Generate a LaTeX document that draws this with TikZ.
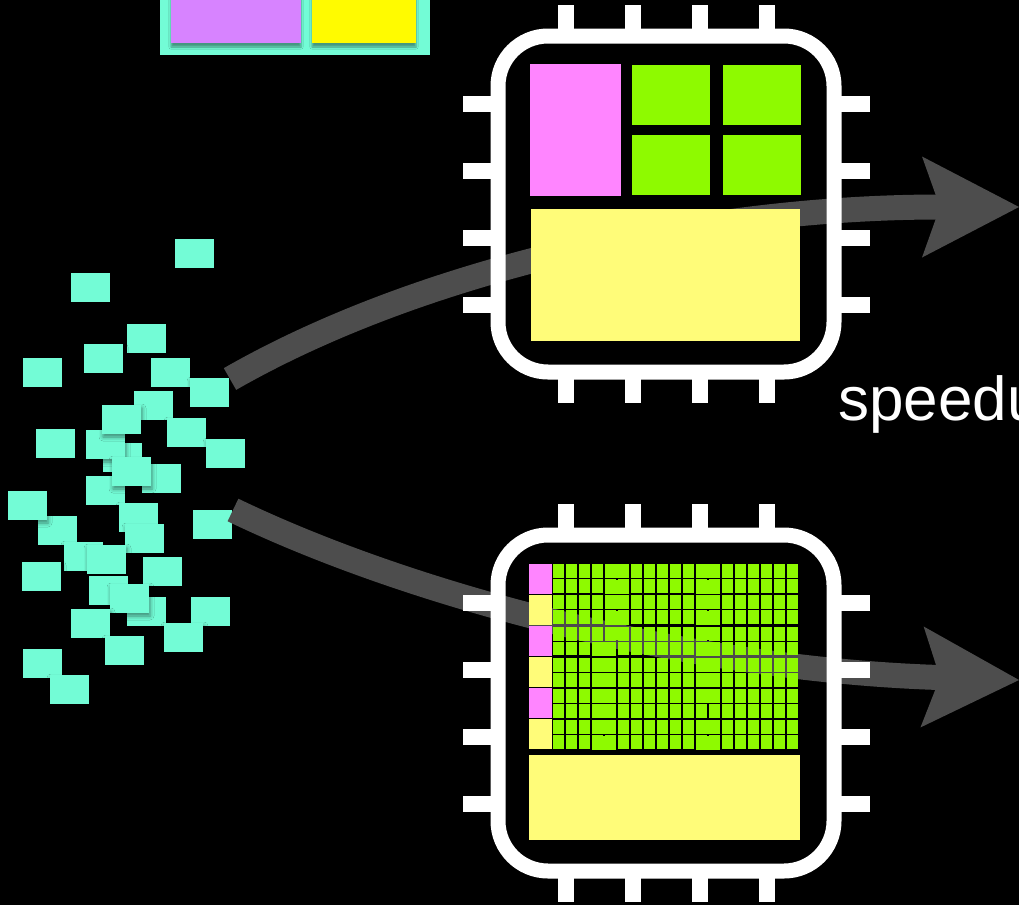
\documentclass[tikz,border=0pt]{standalone}
\usepackage{fontspec}
\setmainfont{Liberation Sans}
\usetikzlibrary{arrows.meta, shadows.blur}

\definecolor{spindrift}{HTML}{73FCD6}
\definecolor{lavender}{HTML}{D783FF}
\definecolor{lemon}{HTML}{FFFB00}
\definecolor{bubblegum}{HTML}{FF85FF}
\definecolor{lime}{HTML}{8EFA00}
\definecolor{banana}{HTML}{FFFC79}
\definecolor{flowgray}{HTML}{4D4D4D}

\begin{document}
\begin{tikzpicture}[
    x=1pt, y=-1pt,
    chip/.style={
        rectangle,
        draw=white,
        line width=15pt,
        rounded corners=50pt,
        minimum width=336pt,
        minimum height=336pt
    },
    pin/.style={draw=white, line width=16pt},
    tile/.style={
        fill=spindrift,
        blur shadow={shadow xshift=1pt, shadow yshift=-3pt,
                     shadow blur radius=4pt, shadow opacity=45}
    },
    flow/.style={
        draw=flowgray,
        line width=25pt,
        -{Stealth[length=97pt, width=101pt, inset=18pt, line width=0pt]}
    }
]

% page
\fill[black] (0,0) rectangle (1019,905);
\useasboundingbox (0,0) rectangle (1019,905);

% work queue, cut off at the top
\fill[spindrift] (160,-10) rectangle (430,55);
\fill[lavender, blur shadow={shadow yshift=-4pt, shadow xshift=0pt}] (171,-10) rectangle (301,43);
\fill[lemon, blur shadow={shadow yshift=-4pt, shadow xshift=0pt}] (312,-10) rectangle (416,43);

% scattered tasks
\foreach \x/\y in {175/239, 71/273, 127/324, 84/344, 23/358, 151/358, 190/378,
                   134/391, 103/443, 86/430, 102/405, 167/418, 36/429, 206/439,
                   142/464, 86/476, 112/457,
                   38/516, 8/491, 119/503, 125/524, 193/510,
                   64/542, 87/545, 143/557, 22/562,
                   89/576, 127/597, 110/584, 191/597, 164/623, 71/609, 105/636,
                   23/649, 50/675}
    \fill[tile] (\x,\y) rectangle ++(39,29);

% the two routes
\coordinate (srcA) at (230,379);
\coordinate (srcB) at (233,510);
\coordinate (outA) at (1019,207);
\coordinate (outB) at (1019,680);

\draw[flow] (srcA) .. controls (420,270) and (700,207) .. (outA);
\draw[flow] (srcB) .. controls (420,600) and (700,670) .. (outB);

% CPU
\node[chip] (cpu) at (666,204) {};
\begin{scope}[shift={(cpu.center)}]
    \foreach \p in {-100.5,-33.5,33.5,100.5} {
        \draw[pin] (\p,-199) -- (\p,-168);
        \draw[pin] (\p,168) -- (\p,199);
        \draw[pin] (-203,\p) -- (-168,\p);
        \draw[pin] (168,\p) -- (204,\p);
    }
\end{scope}
\fill[bubblegum] (530,64) rectangle (621,196);
\fill[lime] (632,65) rectangle (710,125);
\fill[lime] (723,65) rectangle (801,125);
\fill[lime] (632,135) rectangle (710,195);
\fill[lime] (723,135) rectangle (801,195);
\fill[banana] (531,209) rectangle (800,341);

% GPU
\node[chip] (gpu) at (666,703) {};
\begin{scope}[shift={(gpu.center)}]
    \foreach \p in {-100.5,-33.5,33.5,100.5} {
        \draw[pin] (\p,-199) -- (\p,-168);
        \draw[pin] (\p,168) -- (\p,199);
        \draw[pin] (-203,\p) -- (-168,\p);
        \draw[pin] (168,\p) -- (204,\p);
    }
\end{scope}
\foreach \k in {0,2,4} {
    \fill[bubblegum] (529,{563+31.17*\k+0.5}) rectangle (552,{563+31.17*\k+30.5});
    \fill[banana] (529,{563+31.17*(\k+1)+0.5}) rectangle (552,{563+31.17*(\k+1)+30.5});
}
\foreach \c in {0,...,18}
    \foreach \r in {0,...,5} {
        \fill[lime] ({552+13*\c+0.6},{563+31.17*\r+1.2}) rectangle ++(11.8,14);
        \fill[lime] ({552+13*\c+0.6},{563+31.17*\r+16.2}) rectangle ++(11.8,13.9);
    }
% wider cells: row index / first column of the pair
\foreach \r/\c in {0/4, 1/4, 2/4, 3/4, 4/4, 5/3, 6/3, 7/3, 8/3, 9/3, 10/3, 11/3,
                   0/11, 1/11, 2/11, 3/11, 4/11, 5/11, 6/11, 7/11, 8/11, 10/11, 11/11}
    \fill[lime] ({552+13*\c+0.6},{563+31.17*int(\r/2)+15.58*mod(\r,2)+1.2}) rectangle ++(24.8,13.9);
\fill[banana] (529,755) rectangle (800,840);

\node[anchor=base west, inner sep=0pt, text=white,
      font=\fontsize{62}{72}\selectfont] (speedup) at (838,420) {speedup};

\end{tikzpicture}
\end{document}
